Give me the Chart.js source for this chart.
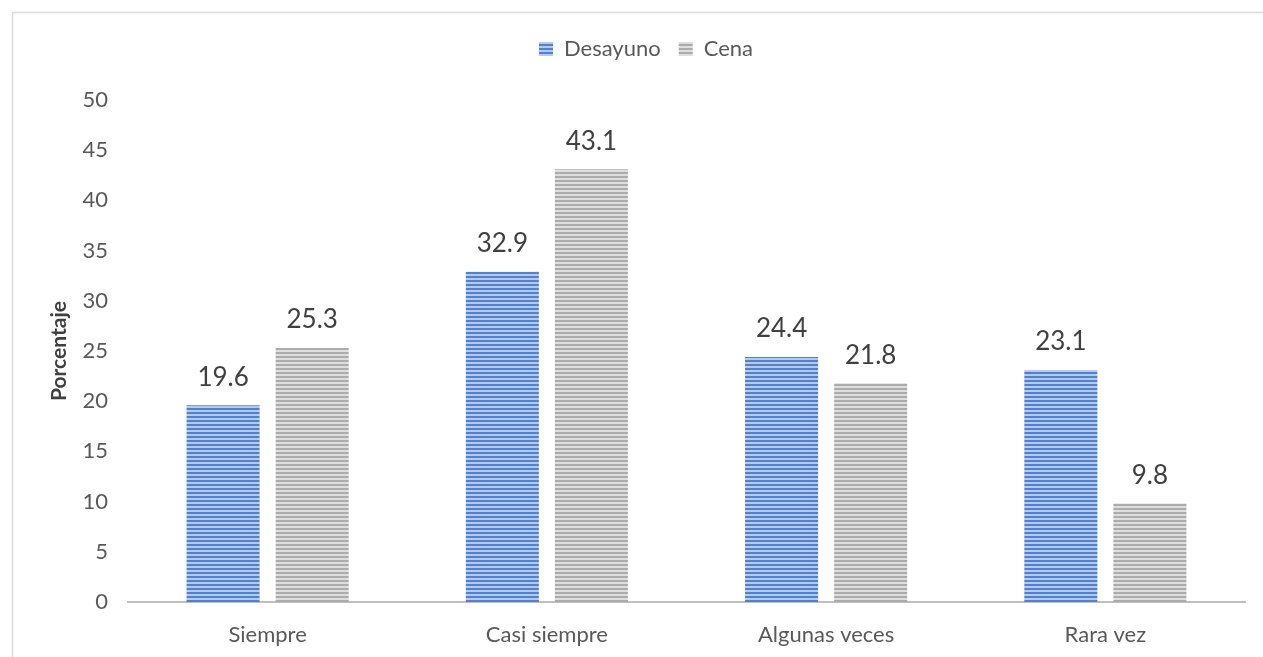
<!DOCTYPE html>
<html>
<head>
<meta charset="utf-8">
<script src="https://cdn.jsdelivr.net/npm/chart.js@4.4.1/dist/chart.umd.min.js"></script>
<style>
  html, body { margin: 0; padding: 0; background: #ffffff; }
  #wrap { position: relative; width: 1263px; height: 657px; }
</style>
</head>
<body>
<div id="wrap"><canvas id="c" width="1263" height="657"></canvas></div>
<script>
// Frecuencia de consumo (%)
const categories = ['Siempre', 'Casi siempre', 'Algunas veces', 'Rara vez'];
const desayuno = [19.6, 32.9, 24.4, 23.1];
const cena = [25.3, 43.1, 21.8, 9.8];
const yTicks = [0, 5, 10, 15, 20, 25, 30, 35, 40, 45, 50];

const FONT = "Lato, 'Open Sans', 'Liberation Sans', sans-serif";

// Horizontal stripe fill used for the bars
function stripes(dark, light) {
  const p = document.createElement('canvas');
  p.width = 8; p.height = 4;
  const g = p.getContext('2d');
  g.fillStyle = light; g.fillRect(0, 0, 8, 4);
  g.fillStyle = dark; g.fillRect(0, 0, 8, 2);
  return g.createPattern(p, 'repeat');
}
const ctx0 = document.getElementById('c').getContext('2d');
const bluePattern = stripes('#5080d0', '#b6caee');
const grayPattern = stripes('#ababab', '#dedede');

// Value labels above each bar
const valueLabels = {
  id: 'valueLabels',
  afterDatasetsDraw(chart) {
    const ctx = chart.ctx;
    ctx.save();
    ctx.font = '26px ' + FONT;
    ctx.fillStyle = '#404040';
    ctx.textAlign = 'center';
    ctx.textBaseline = 'middle';
    chart.data.datasets.forEach((ds, i) => {
      chart.getDatasetMeta(i).data.forEach((el, j) => {
        ctx.fillText(ds.data[j].toFixed(1), el.x, el.y - 28);
      });
    });
    ctx.restore();
  }
};

// Extra room between the legend and the plot
const legendGap = {
  id: 'legendGap',
  beforeInit(chart) {
    const fit = chart.legend.fit;
    chart.legend.fit = function () {
      fit.bind(chart.legend)();
      this.height += 30;
    };
  }
};

// Thin frame along the top and left edges
const frame = {
  id: 'frame',
  beforeDraw(chart) {
    const ctx = chart.ctx;
    ctx.save();
    ctx.strokeStyle = '#d9d9d9';
    ctx.lineWidth = 1.5;
    ctx.beginPath();
    ctx.moveTo(12.5, chart.height + 2);
    ctx.lineTo(12.5, 12.5);
    ctx.lineTo(chart.width + 2, 12.5);
    ctx.stroke();
    ctx.restore();
  }
};

new Chart(ctx0, {
  type: 'bar',
  data: {
    labels: categories,
    datasets: [
      { label: 'Desayuno', data: desayuno, backgroundColor: bluePattern, borderWidth: 0,
        categoryPercentage: 0.638, barPercentage: 0.82 },
      { label: 'Cena', data: cena, backgroundColor: grayPattern, borderWidth: 0,
        categoryPercentage: 0.638, barPercentage: 0.82 }
    ]
  },
  options: {
    responsive: false,
    animation: false,
    devicePixelRatio: 1,
    layout: { padding: { left: 47, right: 18, top: 20, bottom: 0 } },
    plugins: {
      legend: {
        position: 'top',
        labels: {
          font: { family: FONT, size: 22 },
          color: '#595959',
          boxWidth: 14, boxHeight: 14,
          padding: 18
        }
      },
      tooltip: { enabled: false }
    },
    scales: {
      x: {
        grid: { display: false, drawTicks: false },
        border: { display: true, color: '#bfbfbf', width: 2 },
        ticks: { font: { family: FONT, size: 22 }, color: '#595959', padding: 20 },
        afterFit(s) { s.height = 55; }
      },
      y: {
        min: 0, max: 50,
        afterBuildTicks(s) { s.ticks = yTicks.map(v => ({ value: v })); },
        grid: { display: false, drawTicks: false },
        border: { display: false },
        ticks: { font: { family: FONT, size: 22 }, color: '#595959', padding: 20 },
        title: {
          display: true, text: 'Porcentaje',
          font: { family: FONT, size: 21, weight: 'bold' }, color: '#404040',
          padding: 0
        },
        afterFit(s) { s.width = 81; }
      }
    }
  },
  plugins: [frame, legendGap, valueLabels]
});
</script>
</body>
</html>
